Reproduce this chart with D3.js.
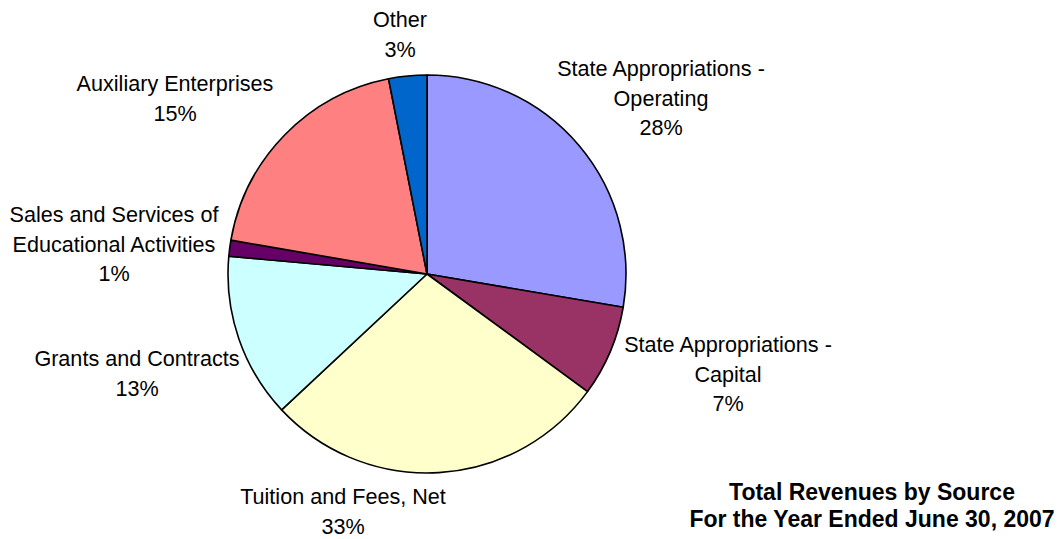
<!DOCTYPE html>
<html>
<head>
<meta charset="utf-8">
<script src="https://cdn.jsdelivr.net/npm/d3@7"></script>
<style>
  body { margin: 0; background: #fff; }
  text { font-family: Arial, "Liberation Sans", sans-serif; fill: #000; }
</style>
</head>
<body>
<div id="chart"></div>
<script>
// revenue sources, clockwise from 12 o'clock
var sources = [
    "State Appropriations - Operating",
    "State Appropriations - Capital",
    "Tuition and Fees, Net",
    "Grants and Contracts",
    "Sales and Services of Educational Activities",
    "Auxiliary Enterprises",
    "Other"
];
// how the names wrap in the picture
var labelLines = [
    ["State Appropriations -", "Operating"],
    ["State Appropriations -", "Capital"],
    ["Tuition and Fees, Net"],
    ["Grants and Contracts"],
    ["Sales and Services of", "Educational Activities"],
    ["Auxiliary Enterprises"],
    ["Other"]
];
// slice sizes as drawn (share of the circle, %)
var shares = [27.7, 7.4, 28.0, 13.4, 1.3, 19.2, 3.1];
// percentages printed on the labels
var pctLabels = ["28%", "7%", "33%", "13%", "1%", "15%", "3%"];

var colors = ["#9999ff", "#993366", "#ffffcc", "#ccffff", "#660066", "#ff8080", "#0066cc"];
// label block anchors: center x, first baseline
var labelPos = [[661, 76], [728, 352], [343, 504], [137, 366], [114, 222], [175, 91], [400, 27]];
var titleLines = ["Total Revenues by Source", "For the Year Ended June 30, 2007"];

var width = 1058, height = 539;
var cx = 427, cy = 274, radius = 199;
var lineH = 29.7;

var svg = d3.select("#chart").append("svg")
    .attr("width", width)
    .attr("height", height);

var pie = d3.pie().sort(null).value(function(d) { return d; });
var arc = d3.arc().innerRadius(0).outerRadius(radius);

var slices = pie(shares);

svg.append("g")
    .attr("transform", "translate(" + cx + "," + cy + ")")
    .selectAll("path")
    .data(slices)
    .enter().append("path")
    .attr("d", arc)
    .attr("fill", function(d, i) { return colors[i]; })
    .attr("stroke", "#000")
    .attr("stroke-width", 1.6)
    .attr("stroke-linejoin", "round");

var labels = svg.selectAll(".label")
    .data(sources)
    .enter().append("text")
    .attr("class", "label")
    .attr("text-anchor", "middle")
    .style("font-size", "21.6px");

labels.each(function(d, i) {
    var lines = labelLines[i].concat([pctLabels[i]]);
    var t = d3.select(this);
    lines.forEach(function(l, j) {
        t.append("tspan")
            .attr("x", labelPos[i][0])
            .attr("y", labelPos[i][1] + j * lineH)
            .text(l);
    });
});

svg.selectAll(".title")
    .data(titleLines)
    .enter().append("text")
    .attr("class", "title")
    .attr("x", 872)
    .attr("y", function(d, i) { return 500 + i * 27; })
    .attr("text-anchor", "middle")
    .style("font-size", "23px")
    .style("font-weight", "bold")
    .text(function(d) { return d; });
</script>
</body>
</html>
